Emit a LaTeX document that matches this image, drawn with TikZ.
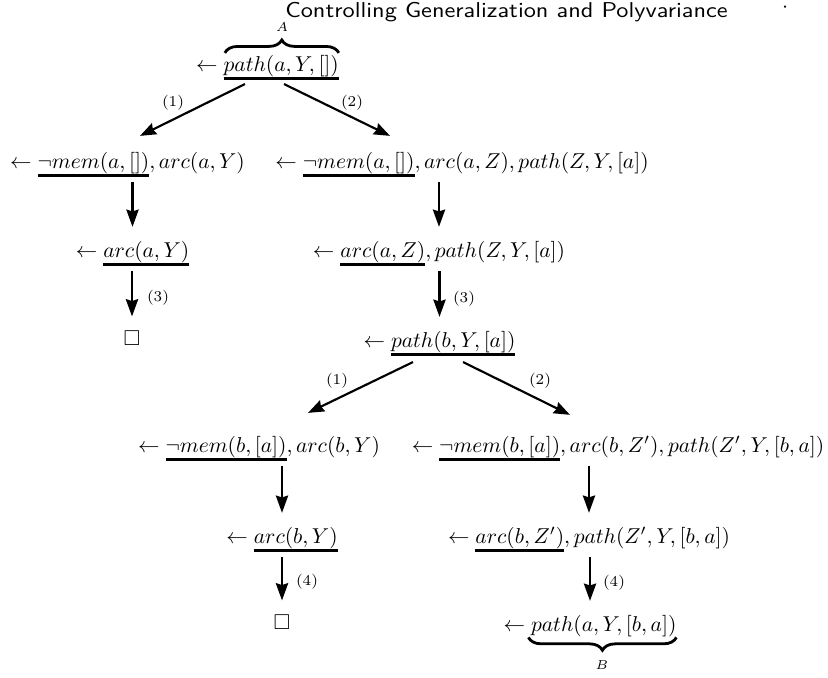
\documentclass[tikz,border=0pt]{standalone}
\usepackage{amssymb}
\usetikzlibrary{arrows.meta,calc,decorations.pathreplacing}
\newcommand{\ulx}[1]{\vtop{\hbox{$#1$}\kern0.3pt\hrule height 1.4pt}}
\begin{document}
\begin{tikzpicture}[x=0.465pt,y=-0.465pt,
  goal/.style={inner sep=0pt,outer sep=0pt,anchor=base},
  lbl/.style={inner sep=0pt,font=\scriptsize},
  varrow/.style={line width=1.3pt,-{Stealth[length=8pt,width=5.6pt,inset=0.8pt]},shorten <=2.3pt,shorten >=6.5pt},
  darrow/.style={line width=1pt,-{Stealth[length=7.5pt,width=5.6pt,inset=0.8pt]}},
  brc/.style={decorate,decoration={brace,amplitude=6pt},line width=1.3pt}]
\useasboundingbox (0,0) rectangle (828,677);

% header
\node[goal,font=\sffamily] (hdr) at (506.5,17) {\scalebox{1.13}[1]{Controlling Generalization and Polyvariance}};
\node[goal] (hdot) at (785,12.4) {$\cdot$};

% goals
\node[goal] (root) at (267.5,71) {$\leftarrow \ulx{path(a,Y,[])}$};
\node[goal] (r2l) at (127.5,168) {$\leftarrow \ulx{\neg mem(a,[])}, arc(a,Y)$};
\node[goal] (r2r) at (462,168) {$\leftarrow \ulx{\neg mem(a,[])}, arc(a,Z), path(Z,Y,[a])$};
\node[goal] (r3l) at (132.5,257) {$\leftarrow \ulx{arc(a,Y)}$};
\node[goal] (r3r) at (439,257) {$\leftarrow \ulx{arc(a,Z)}, path(Z,Y,[a])$};
\node[goal] (e1) at (132,345) {$\square$};
\node[goal] (r4) at (439.5,347) {$\leftarrow \ulx{path(b,Y,[a])}$};
\node[goal] (r5l) at (259,452) {$\leftarrow \ulx{\neg mem(b,[a])}, arc(b,Y)$};
\node[goal] (r5r) at (618,452) {$\leftarrow \ulx{\neg mem(b,[a])}, arc(b,Z'), path(Z',Y,[b,a])$};
\node[goal] (r6l) at (282,543) {$\leftarrow \ulx{arc(b,Y)}$};
\node[goal] (r6r) at (589,543) {$\leftarrow \ulx{arc(b,Z')}, path(Z',Y,[b,a])$};
\node[goal] (e2) at (282,629) {$\square$};
\node[goal] (r7) at (590,631) {$\leftarrow path(a,Y,[b,a])$};

% braces
\draw[brc] ($(root.north east)+(-114,-2)$) -- ($(root.north east)+(0,-2)$);
\node[inner sep=0pt,font=\fontsize{6}{7}\selectfont] (lA) at (282,27) {$A$};
\draw[brc] ($(r7.south east)+(0,1)$) -- ($(r7.south east)+(-148,1)$);
\node[inner sep=0pt,font=\fontsize{6}{7}\selectfont] (lB) at (602,665) {$B$};

% diagonal arrows
\draw[darrow] ($(root.south)+(-22.5,4)$) -- ($(r2l.north)+(12.5,-16)$);
\draw[darrow] ($(root.south)+(16.5,4)$) -- ($(r2r.north)+(-72,-16)$);
\draw[darrow] ($(r4.south)+(-26.5,6)$) -- ($(r5l.north)+(49,-23)$);
\draw[darrow] ($(r4.south)+(23.5,6)$) -- ($(r5r.north)+(-48,-21)$);
\node[lbl] (l1a) at (173,103) {(1)};
\node[lbl] (l2a) at (352,103) {(2)};
\node[lbl] (l1b) at (337,381) {(1)};
\node[lbl] (l2b) at (540,381) {(2)};

% vertical arrows
\draw[varrow] (r2l.south -| r3l.north) -- (r3l.north);
\draw[varrow] (r2r.south -| r3r.north) -- (r3r.north);
\draw[varrow] (r3l.south -| e1.north) -- (e1.north);
\draw[varrow] (r3r.south -| r4.north) -- (r4.north);
\draw[varrow] (r5l.south -| r6l.north) -- (r6l.north);
\draw[varrow] (r5r.south -| r6r.north) -- (r6r.north);
\draw[varrow] (r6l.south -| e2.north) -- (e2.north);
\draw[varrow] (r6r.south -| r7.north) -- (r7.north);
\node[lbl] (l3a) at (158,298) {(3)};
\node[lbl] (l3b) at (464,299) {(3)};
\node[lbl] (l4a) at (307,582) {(4)};
\node[lbl] (l4b) at (614,583) {(4)};
\end{tikzpicture}
\end{document}
